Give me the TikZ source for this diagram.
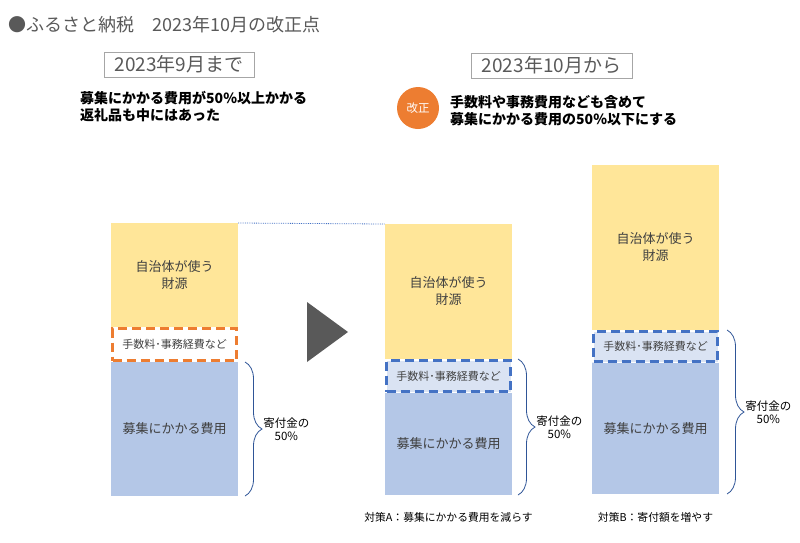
\documentclass[tikz,border=0pt]{standalone}
\usepackage{fontspec}
\setmainfont{Noto Sans CJK JP}
\usetikzlibrary{%
    decorations.pathreplacing,
    positioning
}
\definecolor{zaigen}{HTML}{FFE699}
\definecolor{boshu}{HTML}{B4C7E7}
\definecolor{kaisei}{HTML}{ED7D31}
\definecolor{tesuu}{HTML}{4472C4}
\definecolor{tesuufill}{HTML}{DAE3F3}
\definecolor{kakkoblue}{HTML}{2F5597}
\definecolor{moji}{HTML}{404040}
\definecolor{yajirushi}{HTML}{595959}

\tikzset{
    bar/.style={minimum width=127pt, inner sep=0pt, outer sep=0pt, align=center,
        text=moji, font=\fontsize{13}{17}\selectfont},
    yellowbar/.style={bar, fill=zaigen},
    bluebar/.style={bar, fill=boshu},
    feebox/.style={bar, minimum width=124pt, line width=3pt, outer sep=1.5pt,
        dash pattern=on 9pt off 5pt, font=\fontsize{11}{13}\selectfont},
    period/.style={draw=gray!70, text=yajirushi, inner sep=0pt,
        font=\fontsize{19}{22}\selectfont},
    kakko/.style={decorate, decoration={brace, amplitude=17pt}, draw=kakkoblue, thick},
    note/.style={align=center, inner sep=0pt, text=black, font=\fontsize{11.5}{13}\selectfont},
    lead/.style={align=left, inner sep=0pt, anchor=west, text=black,
        font=\fontsize{14}{17}\selectfont\bfseries}
}

\begin{document}
\begin{tikzpicture}[x=1pt, y=-1pt]
    \useasboundingbox (0,0) rectangle (800,542);

    \node[anchor=west, inner sep=0pt, text=yajirushi, font=\fontsize{18}{20}\selectfont]
        (title) at (8,25) {●ふるさと納税　2023年10月の改正点};

    \node[period, minimum width=150pt, minimum height=25pt] (mae) at (179,64.5) {2023年9月まで};
    \node[period, minimum width=161pt, minimum height=25pt] (ato) at (551.5,65.5) {2023年10月から};

    \node[lead] (genjo) at (80,106.5) {募集にかかる費用が50\%以上かかる\\返礼品も中にはあった};
    \node[circle, fill=kaisei, minimum size=42pt, inner sep=0pt, text=white,
        font=\fontsize{11.5}{13}\selectfont] (kaisei) at (418,108) {改正};
    \node[lead] (kaiseinote) at (450,111) {手数料や事務費用なども含めて\\募集にかかる費用の50\%以下にする};

    % before
    \node[yellowbar, minimum height=104pt, anchor=north] (1y) at (174.5,223) {自治体が使う\\財源};
    \node[feebox, draw=kaisei, fill=white, minimum height=32pt] (1f) [below=0pt of 1y] {手数料･事務経費など};
    \node[bluebar, minimum height=134pt] (1b) [below=0pt of 1f] {募集にかかる費用};

    % plan A
    \node[yellowbar, minimum height=135pt, anchor=north] (2y) at (448.5,224) {自治体が使う\\財源};
    \node[feebox, draw=tesuu, fill=tesuufill, minimum height=31pt] (2f) [below=0pt of 2y] {手数料･事務経費など};
    \node[bluebar, minimum height=102pt] (2b) [below=0pt of 2f] {募集にかかる費用};

    % plan B
    \node[yellowbar, minimum height=165pt, anchor=north] (3y) at (655.5,165) {自治体が使う\\財源};
    \node[feebox, draw=tesuu, fill=tesuufill, minimum height=30pt] (3f) [below=0pt of 3y] {手数料･事務経費など};
    \node[bluebar, minimum height=131pt] (3b) [below=0pt of 3f] {募集にかかる費用};

    \draw[densely dotted, tesuu, line width=0.8pt] (1y.north east) -- (2y.north west);
    \fill[yajirushi] (307,302) -- (348,332) -- (307,362) -- cycle;

    \draw[kakko] ([xshift=7pt]1b.north east) -- ([xshift=7pt]1b.south east)
        node[note, midway, anchor=west, xshift=18pt] (1wari) {寄付金の\\50\%};
    \draw[kakko] ([xshift=6pt]2f.north east) -- ([xshift=6pt]2b.south east)
        node[note, midway, anchor=west, xshift=18pt] (2wari) {寄付金の\\50\%};
    \draw[kakko] ([xshift=8pt]3f.north east) -- ([xshift=8pt]3b.south east)
        node[note, midway, anchor=west, xshift=18pt] (3wari) {寄付金の\\50\%};

    \node[note, font=\fontsize{10.8}{13}\selectfont] (taisakuA) [below=17pt of 2b] {対策A：募集にかかる費用を減らす};
    \node[note, font=\fontsize{10.8}{13}\selectfont] (taisakuB) [below=18pt of 3b] {対策B：寄付額を増やす};
\end{tikzpicture}
\end{document}
